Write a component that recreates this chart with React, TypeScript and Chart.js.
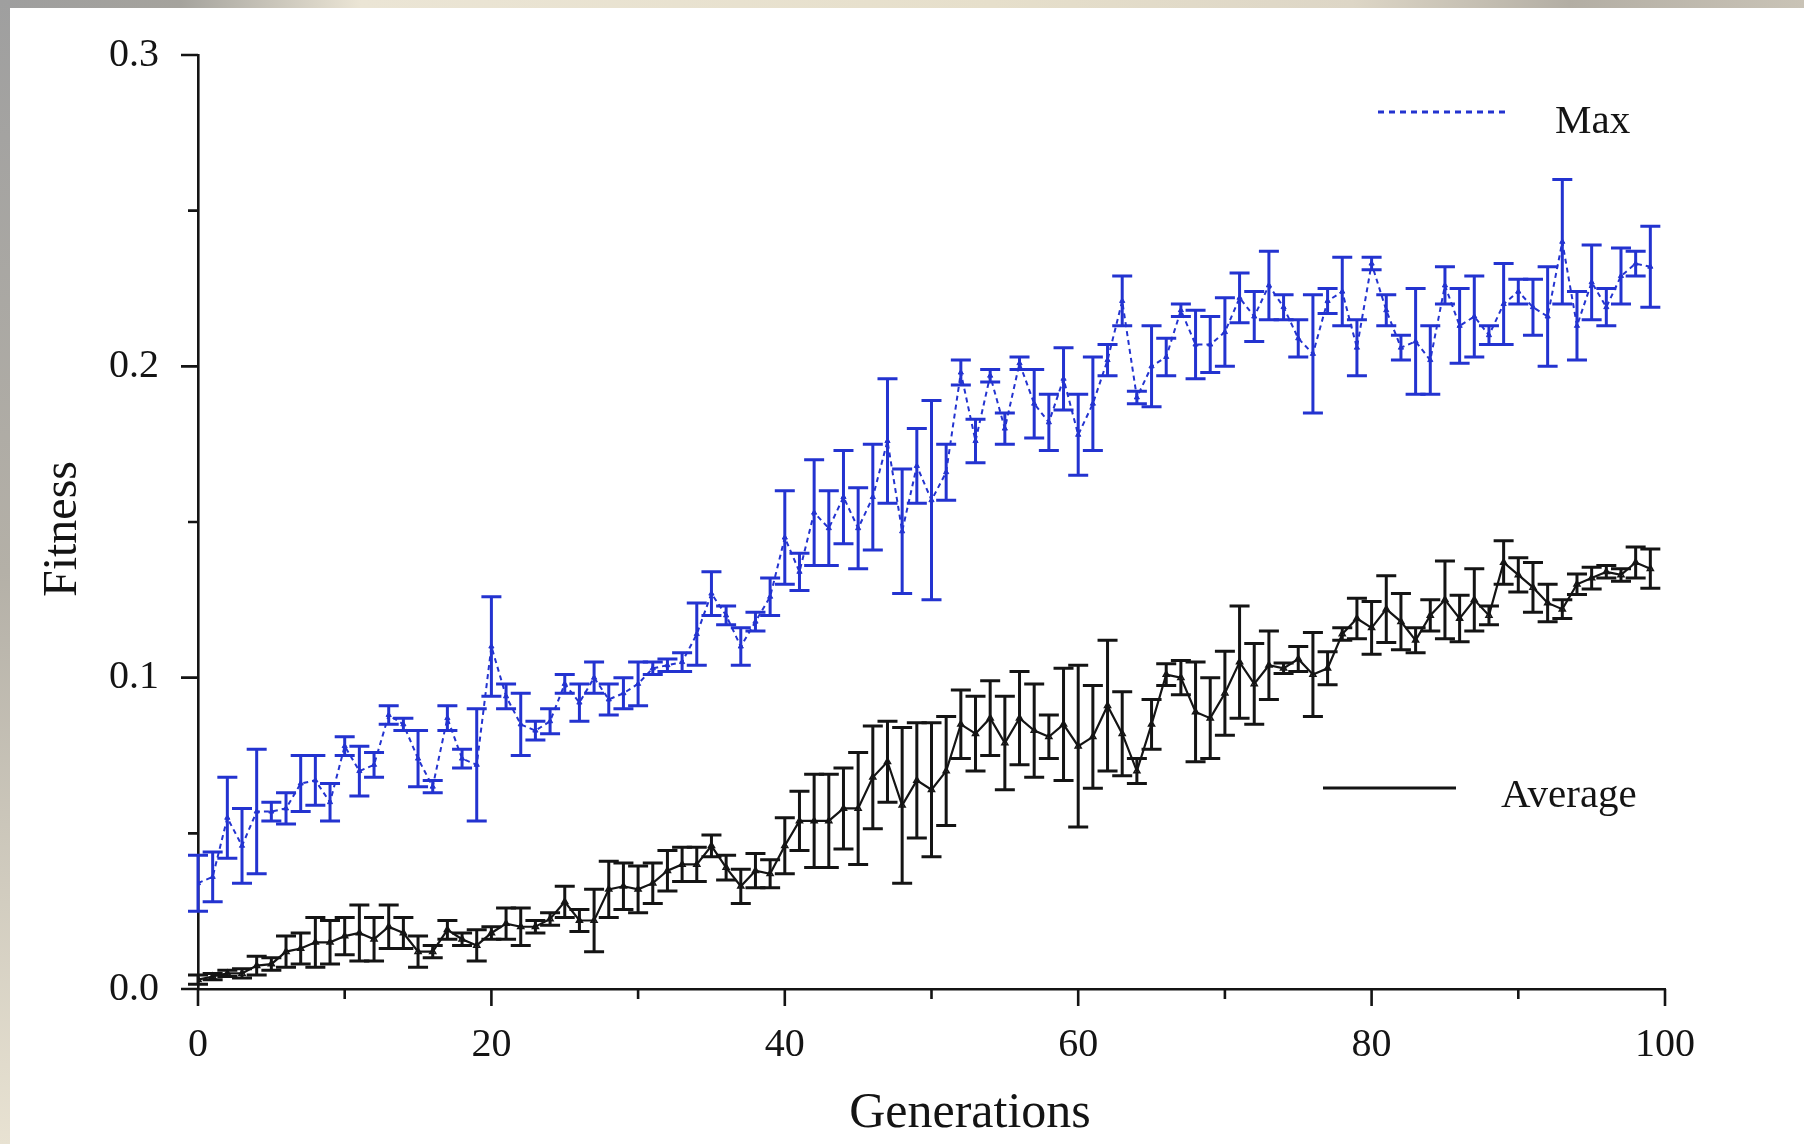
import React, { useEffect, useRef } from "react";
import { Chart, registerables } from "chart.js";

Chart.register(...registerables);

const generations = [
  0, 1, 2, 3, 4, 5, 6, 7, 8, 9, 10, 11, 12, 13, 14, 15, 16, 17, 18, 19,
  20, 21, 22, 23, 24, 25, 26, 27, 28, 29, 30, 31, 32, 33, 34, 35, 36, 37, 38, 39,
  40, 41, 42, 43, 44, 45, 46, 47, 48, 49, 50, 51, 52, 53, 54, 55, 56, 57, 58, 59,
  60, 61, 62, 63, 64, 65, 66, 67, 68, 69, 70, 71, 72, 73, 74, 75, 76, 77, 78, 79,
  80, 81, 82, 83, 84, 85, 86, 87, 88, 89, 90, 91, 92, 93, 94, 95, 96, 97, 98, 99,
];

const maxMean = [
  0.034, 0.036, 0.055, 0.046, 0.057, 0.057, 0.058, 0.066, 0.067, 0.06,
  0.078, 0.07, 0.072, 0.088, 0.085, 0.074, 0.065, 0.087, 0.074, 0.072,
  0.11, 0.094, 0.085, 0.083, 0.086, 0.098, 0.092, 0.1, 0.093, 0.095,
  0.098, 0.103, 0.104, 0.105, 0.114, 0.127, 0.12, 0.11, 0.118, 0.126,
  0.145, 0.134, 0.153, 0.148, 0.158, 0.148, 0.158, 0.176, 0.147, 0.168,
  0.157, 0.166, 0.198, 0.176, 0.197, 0.18, 0.201, 0.188, 0.182, 0.196,
  0.178, 0.188, 0.202, 0.221, 0.19, 0.2, 0.203, 0.218, 0.207, 0.207,
  0.211, 0.222, 0.216, 0.226, 0.219, 0.209, 0.204, 0.221, 0.224, 0.206,
  0.233, 0.218, 0.206, 0.208, 0.202, 0.226, 0.213, 0.216, 0.21, 0.22,
  0.224, 0.219, 0.216, 0.24, 0.213, 0.227, 0.219, 0.229, 0.233, 0.232,
];

const maxErr = [
  0.009, 0.008, 0.013, 0.012, 0.02, 0.003, 0.005, 0.009, 0.008, 0.006,
  0.003, 0.008, 0.004, 0.003, 0.002, 0.009, 0.002, 0.004, 0.003, 0.018,
  0.016, 0.004, 0.01, 0.003, 0.004, 0.003, 0.006, 0.005, 0.005, 0.005,
  0.007, 0.002, 0.002, 0.003, 0.01, 0.007, 0.003, 0.006, 0.003, 0.006,
  0.015, 0.006, 0.017, 0.012, 0.015, 0.013, 0.017, 0.02, 0.02, 0.012,
  0.032, 0.009, 0.004, 0.007, 0.002, 0.005, 0.002, 0.011, 0.009, 0.01,
  0.013, 0.015, 0.005, 0.008, 0.002, 0.013, 0.006, 0.002, 0.011, 0.009,
  0.011, 0.008, 0.008, 0.011, 0.004, 0.006, 0.019, 0.004, 0.011, 0.009,
  0.002, 0.005, 0.004, 0.017, 0.011, 0.006, 0.012, 0.013, 0.003, 0.013,
  0.004, 0.009, 0.016, 0.02, 0.011, 0.012, 0.006, 0.009, 0.004, 0.013,
];

const avgMean = [
  0.003, 0.004, 0.005, 0.005, 0.0075, 0.008, 0.012, 0.013, 0.015, 0.015,
  0.017, 0.018, 0.016, 0.02, 0.018, 0.012, 0.012, 0.019, 0.016, 0.014,
  0.018, 0.021, 0.02, 0.02, 0.0225, 0.028, 0.022, 0.022, 0.032, 0.033,
  0.032, 0.034, 0.038, 0.04, 0.04, 0.046, 0.039, 0.033, 0.038, 0.037,
  0.046, 0.054, 0.054, 0.054, 0.058, 0.058, 0.068, 0.073, 0.059, 0.067,
  0.064, 0.07, 0.085, 0.082, 0.087, 0.079, 0.087, 0.083, 0.081, 0.085,
  0.078, 0.081, 0.091, 0.082, 0.07, 0.085, 0.101, 0.1, 0.089, 0.087,
  0.095, 0.105, 0.098, 0.104, 0.103, 0.106, 0.101, 0.103, 0.114, 0.119,
  0.116, 0.122, 0.118, 0.112, 0.12, 0.125, 0.119, 0.125, 0.12, 0.137,
  0.133, 0.129, 0.124, 0.122, 0.13, 0.132, 0.134, 0.133, 0.137, 0.135,
];

const avgErr = [
  0.0015, 0.001, 0.001, 0.0015, 0.003, 0.002, 0.005, 0.005, 0.008, 0.007,
  0.006, 0.009, 0.007, 0.007, 0.005, 0.005, 0.002, 0.003, 0.002, 0.005,
  0.002, 0.005, 0.006, 0.002, 0.002, 0.005, 0.0035, 0.01, 0.009, 0.0075,
  0.0075, 0.0065, 0.0065, 0.0055, 0.0055, 0.0035, 0.004, 0.0055, 0.0055, 0.0045,
  0.009, 0.0095, 0.015, 0.015, 0.013, 0.018, 0.0165, 0.013, 0.025, 0.0185,
  0.0215, 0.0175, 0.011, 0.012, 0.012, 0.015, 0.015, 0.015, 0.007, 0.018,
  0.026, 0.0165, 0.021, 0.0135, 0.004, 0.008, 0.0035, 0.0055, 0.016, 0.013,
  0.0135, 0.018, 0.013, 0.011, 0.0017, 0.004, 0.0135, 0.0053, 0.002, 0.0065,
  0.0085, 0.0107, 0.009, 0.004, 0.005, 0.0125, 0.0075, 0.01, 0.003, 0.007,
  0.0055, 0.008, 0.006, 0.003, 0.0033, 0.0035, 0.002, 0.002, 0.005, 0.0063,
];

const seriesNames = ["Max", "Average"];
const yMajorTicks = [0, 0.1, 0.2, 0.3];
const yMinorTicks = [0.05, 0.15, 0.25];
const xMajorTicks = [0, 20, 40, 60, 80, 100];
const xMinorTicks = [10, 30, 50, 70, 90];
const xTitle = "Generations";
const yTitle = "Fitness";

const BLUE = "#2333d0";
const BLACK = "#141414";
const SERIF = "'Liberation Serif', 'Times New Roman', serif";

const backgroundPlugin = {
  id: "bgPaper",
  beforeDraw(chart: any) {
    const { ctx, width, height } = chart;
    ctx.save();
    ctx.fillStyle = "#ffffff";
    ctx.fillRect(0, 0, width, height);
    const g = ctx.createLinearGradient(0, 0, width, 0);
    g.addColorStop(0, "#9e9e9e");
    g.addColorStop(0.1, "#a5a39d");
    g.addColorStop(0.2, "#ebe5d5");
    g.addColorStop(0.55, "#e6dfcb");
    g.addColorStop(0.75, "#ddd6c6");
    g.addColorStop(0.87, "#b3aea4");
    g.addColorStop(1, "#c9c3b6");
    ctx.fillStyle = g;
    ctx.fillRect(0, 0, width, 8);
    const v = ctx.createLinearGradient(0, 0, 0, height);
    v.addColorStop(0, "#9f9f9f");
    v.addColorStop(0.5, "#b4b0a7");
    v.addColorStop(1, "#e8e2d2");
    ctx.fillStyle = v;
    ctx.fillRect(0, 0, 10, height);
    ctx.restore();
  },
};

const errorBarPlugin = {
  id: "errorBars",
  afterDatasetsDraw(chart: any) {
    const { ctx } = chart;
    const xs = chart.scales.x;
    const ys = chart.scales.y;
    chart.data.datasets.forEach((ds: any) => {
      const errs: number[] = ds.errors;
      if (!errs) return;
      ctx.save();
      ctx.strokeStyle = ds.errorColor;
      ctx.lineWidth = 3;
      ds.data.forEach((p: any, j: number) => {
        const px = xs.getPixelForValue(p.x);
        const top = ys.getPixelForValue(p.y + errs[j]);
        const bot = ys.getPixelForValue(p.y - errs[j]);
        const cap = 10;
        ctx.beginPath();
        ctx.moveTo(px, top);
        ctx.lineTo(px, bot);
        ctx.moveTo(px - cap, top);
        ctx.lineTo(px + cap, top);
        ctx.moveTo(px - cap, bot);
        ctx.lineTo(px + cap, bot);
        ctx.stroke();
      });
      ctx.restore();
    });
  },
};

const decorPlugin = {
  id: "decor",
  afterDraw(chart: any) {
    const { ctx, chartArea } = chart;
    const xs = chart.scales.x;
    const ys = chart.scales.y;
    ctx.save();
    ctx.strokeStyle = BLACK;
    ctx.lineWidth = 2.6;
    ctx.beginPath();
    yMajorTicks.forEach((t) => {
      const py = ys.getPixelForValue(t);
      ctx.moveTo(chartArea.left - 17, py);
      ctx.lineTo(chartArea.left, py);
    });
    yMinorTicks.forEach((t) => {
      const py = ys.getPixelForValue(t);
      ctx.moveTo(chartArea.left - 10, py);
      ctx.lineTo(chartArea.left, py);
    });
    xMajorTicks.forEach((t) => {
      const px = xs.getPixelForValue(t);
      ctx.moveTo(px, chartArea.bottom);
      ctx.lineTo(px, chartArea.bottom + 17);
    });
    xMinorTicks.forEach((t) => {
      const px = xs.getPixelForValue(t);
      ctx.moveTo(px, chartArea.bottom);
      ctx.lineTo(px, chartArea.bottom + 10);
    });
    ctx.stroke();

    // axis titles
    ctx.fillStyle = BLACK;
    ctx.textAlign = "center";
    ctx.textBaseline = "middle";
    ctx.font = `50px ${SERIF}`;
    ctx.fillText(xTitle, 970, 1114);
    ctx.save();
    ctx.translate(63, 529);
    ctx.rotate(-Math.PI / 2);
    ctx.font = `48px ${SERIF}`;
    ctx.fillText(yTitle, 0, 0);
    ctx.restore();

    // legend entries
    ctx.font = `41px ${SERIF}`;
    ctx.textAlign = "left";
    ctx.lineWidth = 3;
    ctx.strokeStyle = BLUE;
    ctx.setLineDash([6, 5]);
    ctx.beginPath();
    ctx.moveTo(1378, 112);
    ctx.lineTo(1505, 112);
    ctx.stroke();
    ctx.setLineDash([]);
    ctx.fillStyle = BLACK;
    ctx.fillText(seriesNames[0], 1555, 122);

    ctx.strokeStyle = BLACK;
    ctx.lineWidth = 3;
    ctx.beginPath();
    ctx.moveTo(1323, 788);
    ctx.lineTo(1456, 788);
    ctx.stroke();
    ctx.fillText(seriesNames[1], 1501, 796);
    ctx.restore();
  },
};

export default function App() {
  const canvasRef = useRef<HTMLCanvasElement | null>(null);

  useEffect(() => {
    document.body.style.margin = "0";
    const canvas = canvasRef.current;
    if (!canvas) return;
    const maxData = generations.map((g, i) => ({ x: g, y: maxMean[i] }));
    const avgData = generations.map((g, i) => ({ x: g, y: avgMean[i] }));
    const chart = new Chart(canvas, {
      type: "line",
      data: {
        datasets: [
          {
            label: seriesNames[0],
            data: maxData,
            borderColor: BLUE,
            borderWidth: 2,
            borderDash: [5, 4],
            pointStyle: "triangle",
            pointRadius: 3,
            pointBackgroundColor: BLUE,
            pointBorderColor: BLUE,
            pointBorderWidth: 1,
            tension: 0,
            errors: maxErr,
            errorColor: BLUE,
          } as any,
          {
            label: seriesNames[1],
            data: avgData,
            borderColor: BLACK,
            borderWidth: 2.2,
            pointStyle: "triangle",
            pointRadius: 3.5,
            pointBackgroundColor: "rgba(0,0,0,0)",
            pointBorderColor: BLACK,
            pointBorderWidth: 1.5,
            tension: 0,
            errors: avgErr,
            errorColor: BLACK,
          } as any,
        ],
      },
      options: {
        responsive: false,
        animation: false,
        devicePixelRatio: 1,
        layout: { padding: { top: 52, right: 139, left: 0, bottom: 0 } },
        plugins: {
          legend: { display: false },
          tooltip: { enabled: false },
        },
        scales: {
          x: {
            type: "linear",
            min: 0,
            max: 100,
            afterFit: (scale: any) => {
              scale.height = 155;
            },
            grid: { display: false },
            border: { display: true, color: BLACK, width: 2.6 },
            ticks: {
              stepSize: 20,
              padding: 24,
              color: BLACK,
              font: { family: SERIF, size: 40 },
              maxRotation: 0,
              autoSkip: false,
            },
          },
          y: {
            min: 0,
            max: 0.3,
            afterFit: (scale: any) => {
              scale.width = 198;
            },
            grid: { display: false },
            border: { display: true, color: BLACK, width: 2.6 },
            ticks: {
              stepSize: 0.1,
              padding: 31,
              color: BLACK,
              font: { family: SERIF, size: 40 },
              callback: (v: any) => Number(v).toFixed(1),
            },
          },
        },
      },
      plugins: [backgroundPlugin, errorBarPlugin, decorPlugin],
    });
    return () => chart.destroy();
  }, []);

  return (
    <canvas
      ref={canvasRef}
      width={1804}
      height={1144}
      style={{ display: "block", width: "1804px", height: "1144px" }}
    />
  );
}
